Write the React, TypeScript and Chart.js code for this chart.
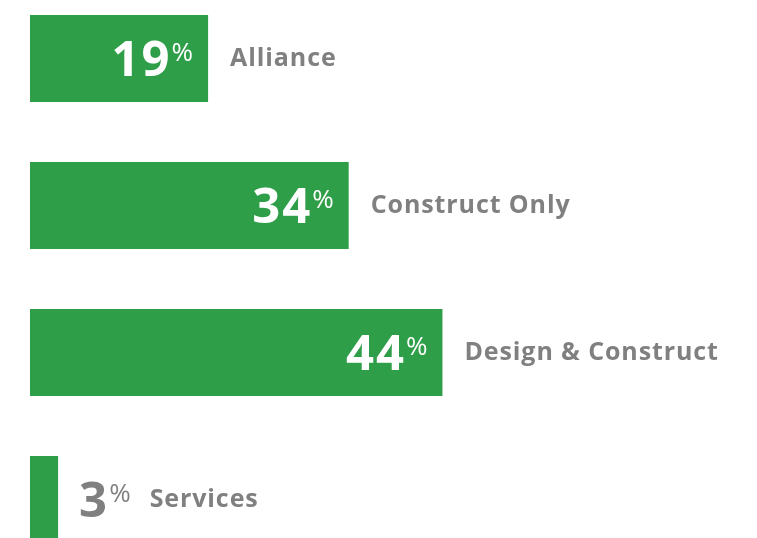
import React, { useEffect, useRef } from "react";
import { Chart, registerables } from "chart.js";

Chart.register(...registerables);

const categories = ["Alliance", "Construct Only", "Design & Construct", "Services"];
const shares = [19, 34, 44, 3];
const valueSuffix = "%";

const GREEN = "#2e9e48";
const GRAY = "#808080";
const FONT = "'Open Sans', 'Noto Sans', sans-serif";

const labelPlugin = {
  id: "barLabels",
  afterDatasetsDraw(chart: any) {
    const ctx = chart.ctx as CanvasRenderingContext2D;
    const meta = chart.getDatasetMeta(0);
    const data = chart.data.datasets[0].data as number[];
    const labels = chart.data.labels as string[];
    meta.data.forEach((el: any, i: number) => {
      const xEnd = el.x;
      const xStart = el.base;
      const y = el.y;
      const num = String(data[i]);
      ctx.save();
      (ctx as any).letterSpacing = "2px";
      ctx.font = `700 49px ${FONT}`;
      const numW = ctx.measureText(num).width - 2;
      (ctx as any).letterSpacing = "0px";
      ctx.font = `400 26px ${FONT}`;
      const pctW = ctx.measureText(valueSuffix).width;
      const inside = xEnd - xStart > numW + pctW + 40;
      let numLeft: number, pctLeft: number, labelLeft: number, color: string;
      if (inside) {
        const pctRight = xEnd - 15;
        pctLeft = pctRight - pctW;
        numLeft = pctLeft - 2 - numW;
        labelLeft = xEnd + 22;
        color = "#ffffff";
      } else {
        numLeft = xEnd + 21;
        pctLeft = numLeft + numW + 2;
        labelLeft = pctLeft + pctW + 19;
        color = GRAY;
      }
      ctx.textBaseline = "alphabetic";
      ctx.textAlign = "left";
      ctx.fillStyle = color;
      (ctx as any).letterSpacing = "2px";
      ctx.font = `700 49px ${FONT}`;
      ctx.fillText(num, numLeft, y + 17);
      (ctx as any).letterSpacing = "0px";
      ctx.font = `400 26px ${FONT}`;
      ctx.fillText(valueSuffix, pctLeft, y + 2);
      ctx.fillStyle = GRAY;
      (ctx as any).letterSpacing = "0.9px";
      ctx.font = `700 25px ${FONT}`;
      ctx.fillText(labels[i], labelLeft, y + 7.5);
      ctx.restore();
    });
  },
};

export default function App() {
  const ref = useRef<HTMLCanvasElement | null>(null);
  useEffect(() => {
    document.body.style.margin = "0";
    const chart = new Chart(ref.current as HTMLCanvasElement, {
      type: "bar",
      data: {
        labels: categories,
        datasets: [
          {
            data: shares,
            backgroundColor: GREEN,
            borderWidth: 0,
            categoryPercentage: 1,
            barPercentage: 0.592,
          },
        ],
      },
      options: {
        indexAxis: "y",
        animation: false,
        responsive: false,
        maintainAspectRatio: false,
        layout: { padding: { left: 30, right: 24, top: 0, bottom: 0 } },
        plugins: { legend: { display: false }, tooltip: { enabled: false } },
        scales: {
          x: { display: false, min: 0, max: 75 },
          y: { display: false },
        },
      },
      plugins: [labelPlugin],
    });
    return () => chart.destroy();
  }, []);
  return (
    <div style={{ width: 757, height: 538, overflow: "hidden", position: "relative", background: "#fff" }}>
      <canvas
        ref={ref}
        width={757}
        height={588}
        style={{ position: "absolute", left: 0, top: -15, width: 757, height: 588 }}
      />
    </div>
  );
}
